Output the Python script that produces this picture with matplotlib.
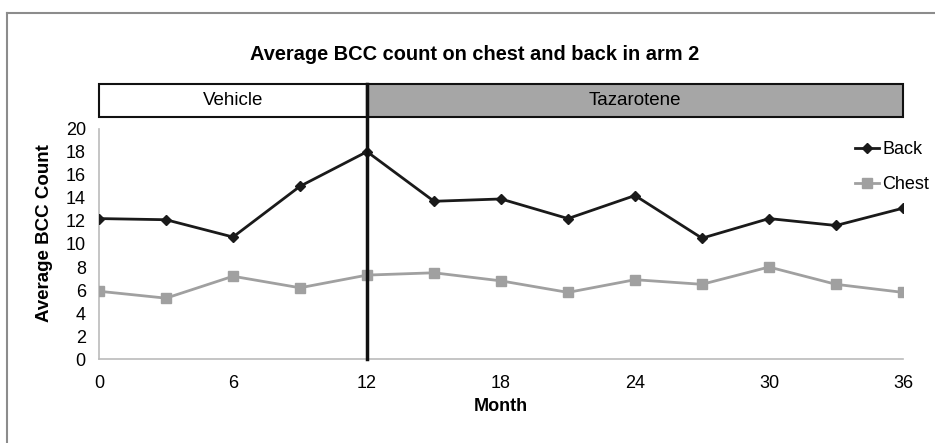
import numpy as np
import matplotlib.pyplot as plt
from matplotlib.patches import Rectangle
from matplotlib.lines import Line2D
import matplotlib.transforms as mtransforms

plt.rcParams['font.family'] = ['Liberation Sans', 'DejaVu Sans']

months = [0, 3, 6, 9, 12, 15, 18, 21, 24, 27, 30, 33, 36]
back = [12.2, 12.1, 10.6, 15.0, 18.0, 13.7, 13.9, 12.2, 14.2, 10.5, 12.2, 11.6, 13.1]
chest = [5.9, 5.3, 7.2, 6.2, 7.3, 7.5, 6.8, 5.8, 6.9, 6.5, 8.0, 6.5, 5.8]
phases = [('Vehicle', 0, 12, 'white'), ('Tazarotene', 12, 36, '#a6a6a6')]

fig = plt.figure(figsize=(9.35, 4.43), dpi=100)
W, H = 935, 443
ax = fig.add_axes([99 / W, 1 - 359.3 / H, (903 - 99) / W, (359.3 - 128.6) / H])

ax.plot(months, back, color='#1a1a1a', lw=2, marker='D', ms=5.5, label='Back', zorder=4)
ax.plot(months, chest, color='#a0a0a0', lw=2, marker='s', ms=7, label='Chest', zorder=3)

ax.set_xlim(0, 36)
ax.set_ylim(0, 20)
ax.set_xticks(range(0, 37, 6))
ax.set_yticks(range(0, 21, 2))
ax.tick_params(length=0, labelsize=13)
ax.tick_params(axis='x', pad=11)
ax.tick_params(axis='y', pad=9.5)
for s in ['top', 'right']:
    ax.spines[s].set_visible(False)
for s in ['left', 'bottom']:
    ax.spines[s].set_color('#bbbbbb')
    ax.spines[s].set_linewidth(1.2)

ax.set_xlabel('Month', fontsize=13, fontweight='bold')
ax.set_ylabel('Average BCC Count', fontsize=13.5, fontweight='bold')
ax.xaxis.set_label_coords(0.5, (359.3 - 398) / (359.3 - 128.6))
ax.yaxis.set_label_coords((53 - 99) / (903 - 99), (359.3 - 233.5) / (359.3 - 128.6))

# phase header boxes
trans = mtransforms.blended_transform_factory(ax.transData, ax.transAxes)
y0 = (359.3 - 117) / (359.3 - 128.6)
y1 = (359.3 - 84) / (359.3 - 128.6)
for name, start, end, fc in phases:
    ax.add_patch(Rectangle((start, y0), end - start, y1 - y0, transform=trans,
                           facecolor=fc, edgecolor='#111111', lw=1.5, clip_on=False))
    ax.text((start + end) / 2, (y0 + y1) / 2, name, transform=trans,
            ha='center', va='center', fontsize=13.5)

ax.plot([12, 12], [0, y1], transform=trans, color='#111111', lw=2.5,
        clip_on=False, zorder=5)

ax.legend(loc='upper left', bbox_to_anchor=(846 / W, 1 - 132 / H),
          bbox_transform=fig.transFigure, frameon=False, fontsize=13,
          handlelength=1.35, handletextpad=0.15, labelspacing=1.0, borderpad=0)

fig.text(475 / W, 1 - 55 / H, 'Average BCC count on chest and back in arm 2',
         ha='center', va='center', fontsize=14.4, fontweight='bold')

# outer frame
fig.add_artist(Line2D([6.5 / W, 6.5 / W], [0, 1 - 13 / H], color='#8c8c8c', lw=1.5))
fig.add_artist(Line2D([6.5 / W, 1], [1 - 13 / H, 1 - 13 / H], color='#8c8c8c', lw=1.5))

fig.savefig('out.png', dpi=100)
